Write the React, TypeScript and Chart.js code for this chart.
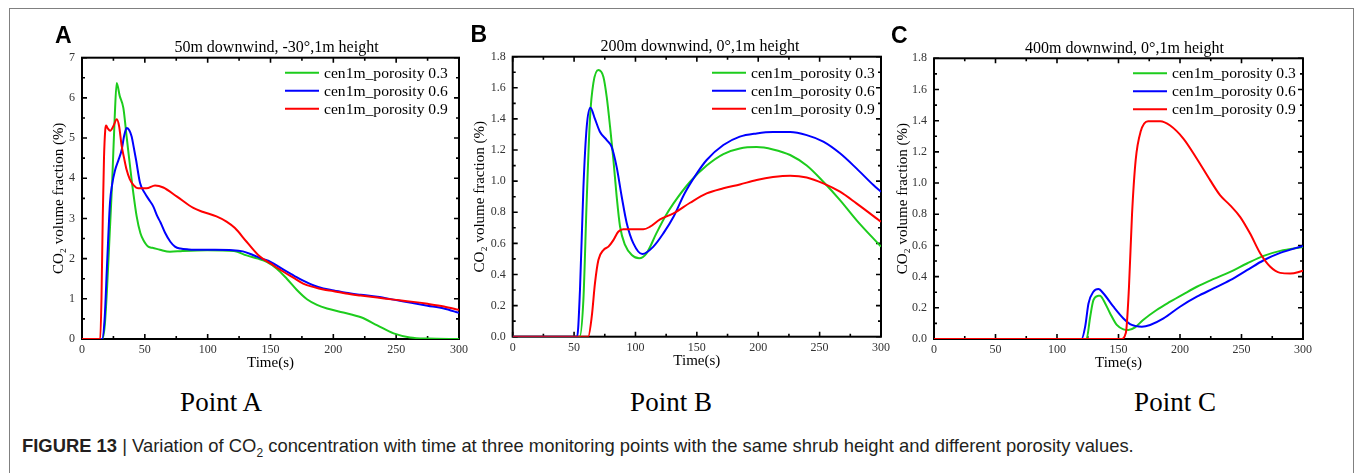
import React, { useEffect, useRef } from "react";
import { Chart, registerables } from "chart.js";
Chart.register(...registerables);

const SERIF = "'Liberation Serif', 'Times New Roman', serif";
const SANS = "'Liberation Sans', Arial, sans-serif";

const seriesLabels = ["cen1m_porosity 0.3", "cen1m_porosity 0.6", "cen1m_porosity 0.9"];
const seriesColors = ["#1dcc1d", "#0000ff", "#ff0000"];

const panelTitles = [
  "50m downwind, -30°,1m height",
  "200m downwind, 0°,1m height",
  "400m downwind, 0°,1m height",
];
const panelLetters = ["A", "B", "C"];
const pointLabels = ["Point A", "Point B", "Point C"];

const xTicks = [0, 50, 100, 150, 200, 250, 300];
const yTicksA = [0, 1, 2, 3, 4, 5, 6, 7];
const yTicksBC = [0, 0.2, 0.4, 0.6, 0.8, 1.0, 1.2, 1.4, 1.6, 1.8];

// ---- Panel A (50 m downwind) ----
const tA03 = [0, 16, 18, 20, 22, 24, 26, 27.6, 30, 32.9, 35.5, 39.5, 43.5, 46.5, 49, 53, 56, 62, 70, 80, 99.5, 121, 131, 140, 147, 155, 163, 171, 179, 187, 195, 208, 222, 235, 248, 261, 275, 300];
const vA03 = [0, 0, 0.3, 1.3, 2.6, 3.9, 5.5, 6.37, 6.05, 5.75, 5.04, 3.96, 3.05, 2.63, 2.45, 2.29, 2.27, 2.22, 2.17, 2.19, 2.21, 2.19, 2.08, 2.0, 1.92, 1.75, 1.5, 1.22, 0.99, 0.85, 0.76, 0.66, 0.54, 0.34, 0.14, 0.04, 0.01, 0];
const tA06 = [0, 16, 18, 20, 22.3, 24, 26.3, 29, 31.6, 33.5, 35.5, 37.5, 39.5, 41, 43, 46.2, 50, 53, 56.7, 60, 62.5, 66, 70.3, 74, 78.3, 85, 100, 120, 128, 136, 143, 150, 160, 168.5, 176, 184.5, 192, 200.4, 210, 221.7, 235, 248, 262, 275, 288, 300];
const vA06 = [0, 0, 0.5, 1.9, 3.4, 3.85, 4.2, 4.45, 4.71, 5.05, 5.25, 5.2, 5.04, 4.8, 4.46, 3.88, 3.63, 3.48, 3.3, 3.05, 2.9, 2.65, 2.42, 2.3, 2.25, 2.23, 2.22, 2.21, 2.18, 2.09, 2.0, 1.92, 1.73, 1.58, 1.45, 1.33, 1.26, 1.21, 1.15, 1.1, 1.05, 0.98, 0.9, 0.83, 0.76, 0.65];
const tA09 = [0, 14.5, 15.5, 16.5, 17.5, 18.5, 19.2, 20.5, 22.4, 25, 27.7, 29.5, 31.6, 33.5, 35.5, 38, 41, 44.8, 51.4, 58.1, 64.7, 75.3, 88.6, 96.5, 107, 115, 121.7, 131, 141.6, 150, 160, 168.5, 176, 184.5, 192, 200.4, 210, 221.7, 235, 248, 262, 275, 288, 300];
const vA09 = [0, 0, 1.0, 3.0, 4.5, 5.2, 5.31, 5.24, 5.18, 5.3, 5.47, 5.3, 4.8, 4.5, 4.21, 3.98, 3.83, 3.75, 3.75, 3.82, 3.77, 3.55, 3.26, 3.16, 3.05, 2.92, 2.76, 2.42, 2.05, 1.88, 1.68, 1.52, 1.38, 1.29, 1.23, 1.19, 1.13, 1.08, 1.03, 0.98, 0.93, 0.875, 0.81, 0.725];

// ---- Panel B (200 m downwind) ----
const tB03 = [0, 54.5, 57.6, 60.3, 63, 65.7, 69.8, 73.9, 76.6, 79.3, 82, 84.7, 87.4, 91.5, 97, 103, 109, 117, 124, 131, 144.5, 158, 171.6, 185, 198.7, 212, 226, 239.5, 253, 266.6, 280, 300];
const vB03 = [0, 0, 0.24, 0.88, 1.41, 1.63, 1.714, 1.67, 1.54, 1.35, 1.14, 0.9, 0.71, 0.59, 0.525, 0.504, 0.536, 0.664, 0.77, 0.857, 0.996, 1.1, 1.174, 1.21, 1.219, 1.204, 1.168, 1.1, 0.996, 0.878, 0.75, 0.579];
const tB06 = [0, 52.5, 54.8, 57.6, 60.3, 63.3, 67, 71, 76.6, 80.6, 84.7, 88.8, 92.9, 98.3, 105.6, 114.6, 122.7, 131, 140, 150, 158, 171.6, 185, 198.7, 212, 226, 239.5, 253, 266.6, 280, 293.8, 300];
const vB06 = [0, 0, 0.3, 0.96, 1.35, 1.472, 1.4, 1.318, 1.264, 1.22, 1.09, 0.9, 0.73, 0.6, 0.531, 0.579, 0.664, 0.771, 0.921, 1.05, 1.136, 1.232, 1.286, 1.307, 1.316, 1.316, 1.296, 1.254, 1.179, 1.082, 0.975, 0.932];
const tB09 = [0, 61.5, 64.4, 67, 69.8, 73.9, 78, 82, 86, 90.1, 98.3, 106.4, 111.9, 120, 131, 144.5, 158, 171.6, 185, 198.7, 212, 226, 239.5, 253, 266.6, 280, 300];
const vB09 = [0, 0, 0.13, 0.343, 0.493, 0.557, 0.579, 0.621, 0.675, 0.69, 0.69, 0.69, 0.707, 0.754, 0.793, 0.861, 0.921, 0.954, 0.979, 1.007, 1.026, 1.035, 1.024, 0.986, 0.932, 0.857, 0.739];

// ---- Panel C (400 m downwind) ----
const tC03 = [0, 124, 127, 129.6, 133.7, 135, 137.8, 143.2, 148.6, 154, 158, 163.5, 170, 181, 192, 202.9, 213.7, 227, 240.8, 254.4, 268, 281.5, 300];
const vC03 = [0, 0, 0.143, 0.249, 0.277, 0.278, 0.249, 0.164, 0.09, 0.062, 0.058, 0.075, 0.122, 0.186, 0.239, 0.288, 0.335, 0.384, 0.431, 0.484, 0.533, 0.565, 0.59];
const tC06 = [0, 120, 122.9, 125.6, 129.6, 133.7, 137.8, 145.9, 154, 160.8, 169, 175.7, 186.6, 200, 213.7, 227.3, 240.8, 254.4, 268, 281.5, 300];
const vC06 = [0, 0, 0.079, 0.228, 0.303, 0.32, 0.292, 0.207, 0.132, 0.09, 0.079, 0.09, 0.132, 0.207, 0.271, 0.324, 0.377, 0.441, 0.505, 0.552, 0.597];
const tC09 = [0, 152, 156, 158.5, 161, 164, 168, 174, 184, 192, 202.9, 213.7, 224.6, 232.7, 240.8, 249, 257, 265.3, 273.4, 281.5, 289.7, 300];
const vC09 = [0, 0, 0.04, 0.33, 0.8, 1.15, 1.33, 1.397, 1.397, 1.369, 1.284, 1.156, 1.017, 0.921, 0.857, 0.782, 0.676, 0.548, 0.463, 0.424, 0.42, 0.437];

type PanelCfg = {
  idx: number;
  times: number[][];
  values: number[][];
  yTicks: number[];
  yMinorStep: number;
  decimals: number;
  canvasLeft: number;
  canvasTop: number;
  canvasW: number;
  canvasH: number;
  yAxisW: number;
  rightW: number;
  xAxisH: number;
  titlePadTop: number;
  titlePadBottom: number;
  legendDx: number;
  legendDy: number;
};

const frameTicksPlugin = {
  id: "frameTicks",
  beforeDatasetsDraw(chart: any, _a: any, opts: any) {
    const { ctx, chartArea } = chart;
    const { left, right, top, bottom } = chartArea;
    const xs = chart.scales.x;
    const ys = chart.scales.y;
    ctx.save();
    ctx.strokeStyle = "#000";
    ctx.lineWidth = 2;
    ctx.strokeRect(left, top, right - left, bottom - top);
    ctx.lineWidth = 1.6;
    ctx.beginPath();
    const xStep = opts.xMinor;
    for (let i = 0; xs.min + i * xStep <= xs.max + 1e-9; i++) {
      const v = xs.min + i * xStep;
      const major = i % 2 === 0;
      const len = major ? 5 : 3;
      const px = xs.getPixelForValue(v);
      ctx.moveTo(px, bottom);
      ctx.lineTo(px, bottom - len);
      ctx.moveTo(px, top);
      ctx.lineTo(px, top + len);
    }
    const yStep = opts.yMinor;
    for (let i = 0; ys.min + i * yStep <= ys.max + 1e-9; i++) {
      const v = ys.min + i * yStep;
      const major = i % 2 === 0;
      const len = major ? 5 : 3;
      const py = ys.getPixelForValue(v);
      ctx.moveTo(left, py);
      ctx.lineTo(left + len, py);
      ctx.moveTo(right, py);
      ctx.lineTo(right - len, py);
    }
    ctx.stroke();
    ctx.restore();
  },
  afterDatasetsDraw(chart: any, _a: any, opts: any) {
    const { ctx, chartArea } = chart;
    const { right, top } = chartArea;
    ctx.save();
    ctx.font = `15.6px ${SERIF}`;
    ctx.textBaseline = "middle";
    ctx.textAlign = "left";
    chart.data.datasets.forEach((ds: any, i: number) => {
      const yy = top + opts.legendDy + i * 18;
      const x0 = right - opts.legendDx;
      ctx.strokeStyle = ds.borderColor;
      ctx.lineWidth = 2;
      ctx.beginPath();
      ctx.moveTo(x0, yy);
      ctx.lineTo(x0 + 34, yy);
      ctx.stroke();
      ctx.fillStyle = "#000";
      ctx.fillText(ds.label, x0 + 39, yy + 1);
    });
    ctx.restore();
  },
};

function Panel({ cfg }: { cfg: PanelCfg }) {
  const ref = useRef<HTMLCanvasElement | null>(null);
  useEffect(() => {
    if (!ref.current) return;
    const datasets = cfg.times.map((ts, s) => ({
      label: seriesLabels[s],
      data: ts.map((t, k) => ({ x: t, y: cfg.values[s][k] })),
      borderColor: seriesColors[s],
      backgroundColor: seriesColors[s],
      borderWidth: 2,
      pointRadius: 0,
      fill: false,
      order: 3 - s,
      cubicInterpolationMode: "monotone" as const,
    }));
    const yMax = cfg.yTicks[cfg.yTicks.length - 1];
    const yStep = cfg.yTicks[1] - cfg.yTicks[0];
    const chart = new Chart(ref.current, {
      type: "line",
      data: { datasets },
      plugins: [frameTicksPlugin as any],
      options: {
        animation: false,
        responsive: false,
        layout: { padding: 0 },
        plugins: {
          legend: { display: false },
          tooltip: { enabled: false },
          title: {
            display: true,
            text: panelTitles[cfg.idx],
            color: "#000",
            font: { family: SERIF, size: 16, weight: "normal" },
            padding: { top: cfg.titlePadTop, bottom: cfg.titlePadBottom },
          },
          frameTicks: {
            xMinor: 25,
            yMinor: cfg.yMinorStep,
            legendDx: cfg.legendDx,
            legendDy: cfg.legendDy,
          },
        } as any,
        scales: {
          x: {
            type: "linear",
            min: xTicks[0],
            max: xTicks[xTicks.length - 1],
            afterFit: (s: any) => {
              s.height = cfg.xAxisH;
              s.paddingLeft = 0;
              s.paddingRight = 0;
            },
            afterBuildTicks: (s: any) => {
              s.ticks = xTicks.map((v) => ({ value: v }));
            },
            ticks: {
              color: "#333",
              font: { family: SERIF, size: 12 },
              padding: 4,
              maxRotation: 0,
              autoSkip: false,
            },
            grid: { display: false, drawTicks: false },
            border: { display: false },
            title: {
              display: true,
              text: "Time(s)",
              color: "#000",
              font: { family: SERIF, size: 15 },
              padding: { top: 0, bottom: 0 },
            },
          },
          y: {
            type: "linear",
            min: 0,
            max: yMax,
            afterFit: (s: any) => {
              s.width = cfg.yAxisW;
              s.paddingTop = 0;
              s.paddingBottom = 0;
            },
            afterBuildTicks: (s: any) => {
              s.ticks = cfg.yTicks.map((v) => ({ value: v }));
            },
            ticks: {
              stepSize: yStep,
              color: "#333",
              font: { family: SERIF, size: 12 },
              padding: 7,
              autoSkip: false,
              callback: (v: any) => Number(v).toFixed(cfg.decimals),
            },
            grid: { display: false, drawTicks: false },
            border: { display: false },
            title: {
              display: true,
              text: "CO₂ volume fraction (%)",
              color: "#000",
              font: { family: SERIF, size: 15 },
              padding: { top: 0, bottom: 0 },
            },
          },
          yR: {
            type: "linear",
            position: "right",
            display: true,
            ticks: { display: false },
            grid: { display: false, drawTicks: false },
            border: { display: false },
            afterFit: (s: any) => {
              s.width = cfg.rightW;
              s.paddingTop = 0;
              s.paddingBottom = 0;
            },
          },
        } as any,
      },
    });
    return () => chart.destroy();
  }, [cfg]);
  return (
    <canvas
      ref={ref}
      width={cfg.canvasW}
      height={cfg.canvasH}
      style={{
        position: "absolute",
        left: cfg.canvasLeft,
        top: cfg.canvasTop,
        width: cfg.canvasW,
        height: cfg.canvasH,
      }}
    />
  );
}

const panels: PanelCfg[] = [
  {
    idx: 0,
    times: [tA03, tA06, tA09],
    values: [vA03, vA06, vA09],
    yTicks: yTicksA,
    yMinorStep: 0.5,
    decimals: 0,
    canvasLeft: 50,
    canvasTop: 20,
    canvasW: 453,
    canvasH: 352,
    yAxisW: 32,
    rightW: 44,
    xAxisH: 33,
    titlePadTop: 18.4,
    titlePadBottom: 0.1,
    legendDx: 174,
    legendDy: 15,
  },
  {
    idx: 1,
    times: [tB03, tB06, tB09],
    values: [vB03, vB06, vB09],
    yTicks: yTicksBC,
    yMinorStep: 0.1,
    decimals: 1,
    canvasLeft: 471,
    canvasTop: 20,
    canvasW: 458,
    canvasH: 350,
    yAxisW: 41.7,
    rightW: 48,
    xAxisH: 33.3,
    titlePadTop: 17.1,
    titlePadBottom: 0.4,
    legendDx: 169,
    legendDy: 16,
  },
  {
    idx: 2,
    times: [tC03, tC06, tC09],
    values: [vC03, vC06, vC09],
    yTicks: yTicksBC,
    yMinorStep: 0.1,
    decimals: 1,
    canvasLeft: 894,
    canvasTop: 20,
    canvasW: 461,
    canvasH: 352,
    yAxisW: 40,
    rightW: 52,
    xAxisH: 33,
    titlePadTop: 18.7,
    titlePadBottom: 0.4,
    legendDx: 170,
    legendDy: 15,
  },
];

const letterPos = [
  { left: 55, top: 23.5 },
  { left: 470.5, top: 23 },
  { left: 891, top: 23.5 },
];
const pointCenters = [221, 671, 1175];

export default function App() {
  return (
    <div
      style={{
        position: "absolute",
        left: 0,
        top: 0,
        width: 1355,
        height: 473,
        overflow: "hidden",
        background: "#fff",
      }}
    >
      <div
        style={{
          position: "absolute",
          left: 9,
          top: 8,
          width: 1345,
          height: 520,
          boxSizing: "border-box",
          border: "1px solid #808080",
        }}
      />
      {panels.map((p) => (
        <Panel key={p.idx} cfg={p} />
      ))}
      {panelLetters.map((l, i) => (
        <div
          key={l}
          style={{
            position: "absolute",
            left: letterPos[i].left,
            top: letterPos[i].top,
            fontFamily: SANS,
            fontWeight: "bold",
            fontSize: 23,
            lineHeight: "23px",
            color: "#000",
          }}
        >
          {l}
        </div>
      ))}
      {pointLabels.map((l, i) => (
        <div
          key={l}
          style={{
            position: "absolute",
            left: pointCenters[i] - 100,
            width: 200,
            top: 389,
            textAlign: "center",
            fontFamily: SERIF,
            fontSize: 27,
            lineHeight: "27px",
            color: "#000",
          }}
        >
          {l}
        </div>
      ))}
      <div
        style={{
          position: "absolute",
          left: 22,
          top: 437,
          fontFamily: SANS,
          fontSize: 18.4,
          lineHeight: "18px",
          color: "#231f20",
          whiteSpace: "nowrap",
        }}
      >
        <b>FIGURE 13</b> | Variation of CO<sub style={{ fontSize: 12, lineHeight: 0 }}>2</sub> concentration with
        time at three monitoring points with the same shrub height and different porosity values.
      </div>
    </div>
  );
}
